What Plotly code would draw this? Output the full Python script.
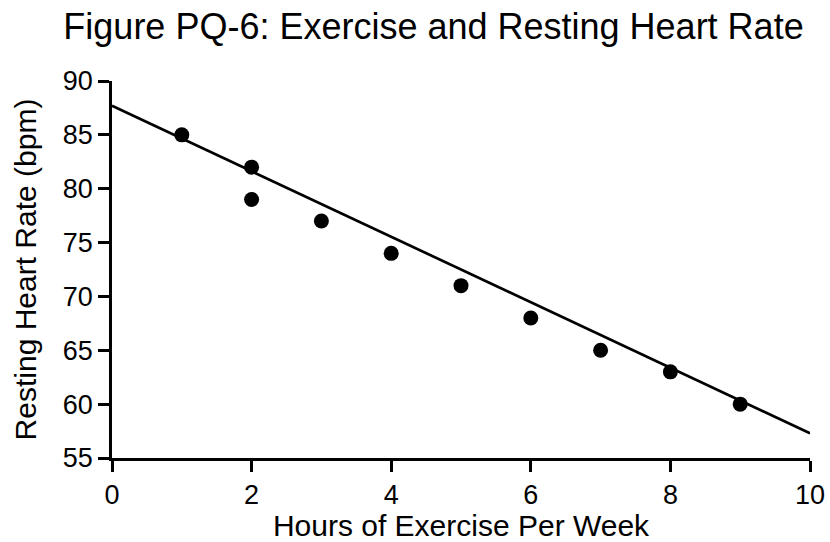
import plotly.graph_objects as go

hours = [1, 2, 2, 3, 4, 5, 6, 7, 8, 9]
heart_rate = [85, 82, 79, 77, 74, 71, 68, 65, 63, 60]
trend_x = [0, 10]
trend_y = [87.7, 57.3]
x_ticks = [0, 2, 4, 6, 8, 10]
y_ticks = [55, 60, 65, 70, 75, 80, 85, 90]

fig = go.Figure()
fig.add_trace(go.Scatter(x=trend_x, y=trend_y, mode="lines",
                         line=dict(color="black", width=2.7), showlegend=False,
                         cliponaxis=False))
fig.add_trace(go.Scatter(x=hours, y=heart_rate, mode="markers",
                         marker=dict(color="black", size=15), showlegend=False,
                         cliponaxis=False))

font = "Liberation Sans, Arial, Helvetica, sans-serif"
fig.update_layout(
    width=830, height=542,
    margin=dict(l=112, r=20, t=81, b=84),
    paper_bgcolor="white", plot_bgcolor="white",
    font=dict(family=font, color="black", size=27),
    title=dict(text="Figure PQ-6: Exercise and Resting Heart Rate",
               x=0.5223, xanchor="center", y=0.951, yanchor="middle",
               font=dict(size=36, family=font, color="black")),
    xaxis=dict(range=[0, 10], tickvals=x_ticks, showgrid=False, zeroline=False,
               automargin=False, ticklabeloverflow="allow",
               showline=True, linecolor="black", linewidth=2.7,
               ticks="outside", ticklen=11, tickwidth=2.7, tickcolor="black",
               tickfont=dict(size=27),
               title=dict(text="Hours of Exercise Per Week", font=dict(size=30), standoff=6)),
    yaxis=dict(range=[55, 90], tickvals=y_ticks, showgrid=False, zeroline=False,
               automargin=False, ticklabeloverflow="allow",
               showline=True, linecolor="black", linewidth=2.7,
               ticks="outside", ticklen=11, tickwidth=2.7, tickcolor="black",
               tickfont=dict(size=27),
               title=dict(text="Resting Heart Rate (bpm)", font=dict(size=30), standoff=18)),
)

fig.write_html("out.html", config={"displayModeBar": False},
               post_script="document.body.style.margin='0';")
